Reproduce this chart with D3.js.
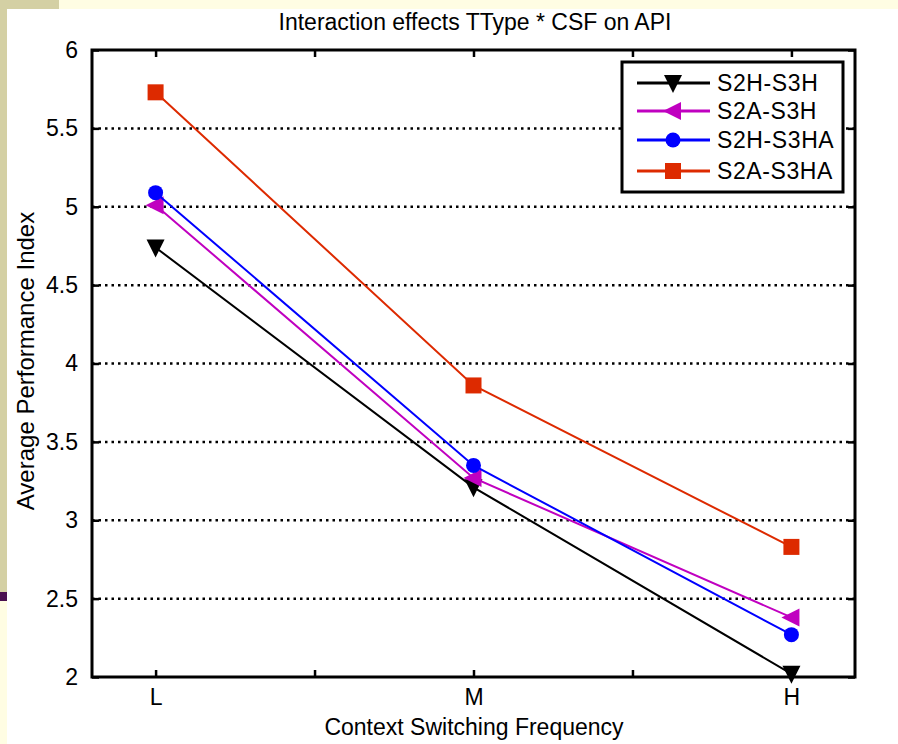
<!DOCTYPE html>
<html>
<head>
<meta charset="utf-8">
<script src="https://cdn.jsdelivr.net/npm/d3@7"></script>
<style>
  body { margin: 0; background: #fffde3; }
  svg { display: block; font-family: "Liberation Sans", Arial, sans-serif; }
</style>
</head>
<body>
<svg width="898" height="744"></svg>
<script>
const categories = ["L", "M", "H"];
const seriesNames = ["S2H-S3H", "S2A-S3H", "S2H-S3HA", "S2A-S3HA"];
const s2hS3h = [4.74, 3.21, 2.02];
const s2aS3h = [5.01, 3.27, 2.38];
const s2hS3ha = [5.09, 3.35, 2.27];
const s2aS3ha = [5.73, 3.86, 2.83];
const yTicks = [2, 2.5, 3, 3.5, 4, 4.5, 5, 5.5, 6];
const xTicks = [1, 1.5, 2, 2.5, 3];

const colors = ["#000000", "#c000c0", "#0000ff", "#dd2a00"];
const symbols = ["tridown", "trileft", "circle", "square"];
const series = seriesNames.map((name, i) => ({
  name, color: colors[i], symbol: symbols[i],
  values: [s2hS3h, s2aS3h, s2hS3ha, s2aS3ha][i]
}));

const svg = d3.select("svg");
const fs = 23;

// slide background bits
svg.append("rect").attr("x", 7).attr("y", 9).attr("width", 891).attr("height", 735).attr("fill", "#fff");
svg.append("rect").attr("x", 0).attr("y", 0).attr("width", 59).attr("height", 9).attr("fill", "#d4d0a4");
svg.append("rect").attr("x", 0).attr("y", 0).attr("width", 7).attr("height", 592).attr("fill", "#d4d0a4");
svg.append("rect").attr("x", 0).attr("y", 592).attr("width", 7).attr("height", 9).attr("fill", "#4a1050");

const plot = { left: 92, right: 855, top: 50, bottom: 677 };
const x = d3.scaleLinear().domain([0.8, 3.2]).range([plot.left, plot.right]);
const y = d3.scaleLinear().domain([2, 6]).range([plot.bottom, plot.top]);

// grid
svg.append("g").selectAll("line")
  .data(yTicks.filter(d => d > 2 && d < 6))
  .join("line")
  .attr("x1", plot.left).attr("x2", plot.right)
  .attr("y1", d => y(d)).attr("y2", d => y(d))
  .attr("stroke", "#000").attr("stroke-width", 2.5)
  .attr("stroke-dasharray", "2.5,4");

// axes (ticks inward on all four sides)
const tickLen = 7;
svg.append("g").attr("transform", `translate(0,${plot.bottom})`)
  .call(d3.axisBottom(x).tickValues(xTicks).tickSizeInner(-tickLen).tickSizeOuter(0).tickPadding(12)
    .tickFormat(d => Number.isInteger(d) ? categories[d - 1] : ""))
  .call(g => g.select(".domain").remove());
svg.append("g").attr("transform", `translate(0,${plot.top})`)
  .call(d3.axisTop(x).tickValues(xTicks).tickSizeInner(-tickLen).tickSizeOuter(0).tickFormat(""))
  .call(g => g.select(".domain").remove());
svg.append("g").attr("transform", `translate(${plot.left},0)`)
  .call(d3.axisLeft(y).tickValues(yTicks).tickSizeInner(-tickLen).tickSizeOuter(0).tickPadding(14)
    .tickFormat(d => d3.format("")(d)))
  .call(g => g.select(".domain").remove());
svg.append("g").attr("transform", `translate(${plot.right},0)`)
  .call(d3.axisRight(y).tickValues(yTicks).tickSizeInner(-tickLen).tickSizeOuter(0).tickFormat(""))
  .call(g => g.select(".domain").remove());

svg.selectAll(".tick line").attr("stroke", "#000").attr("stroke-width", 2.5);
svg.selectAll(".tick text").attr("font-size", fs).attr("fill", "#000")
  .attr("font-family", "Liberation Sans, Arial, sans-serif");

svg.append("rect")
  .attr("x", plot.left).attr("y", plot.top)
  .attr("width", plot.right - plot.left).attr("height", plot.bottom - plot.top)
  .attr("fill", "none").attr("stroke", "#000").attr("stroke-width", 3);

function marker(sel, d) {
  if (d.symbol === "circle") {
    sel.append("circle").attr("r", 7.5).attr("fill", d.color);
  } else if (d.symbol === "square") {
    sel.append("rect").attr("x", -8).attr("y", -8).attr("width", 16).attr("height", 16).attr("fill", d.color);
  } else if (d.symbol === "tridown") {
    sel.append("path").attr("d", "M-9,-8L9,-8L0,10Z").attr("fill", d.color);
  } else {
    sel.append("path").attr("d", "M-10,0L8,-9L8,9Z").attr("fill", d.color);
  }
}

const line = d3.line().x((d, i) => x(i + 1)).y(d => y(d));
const sg = svg.append("g").selectAll("g").data(series).join("g");
sg.append("path")
  .attr("d", d => line(d.values))
  .attr("fill", "none").attr("stroke", d => d.color).attr("stroke-width", 2);
sg.each(function (d) {
  d3.select(this).selectAll(".m").data(d.values).join("g")
    .attr("class", "m")
    .attr("transform", (v, i) => `translate(${x(i + 1)},${y(v)})`)
    .each(function () { marker(d3.select(this), d); });
});

// legend
const lg = svg.append("g");
lg.append("rect").attr("x", 622).attr("y", 62).attr("width", 221).attr("height", 130)
  .attr("fill", "#fff").attr("stroke", "#000").attr("stroke-width", 3);
const rowY = [83, 111, 140, 171];
const items = lg.selectAll("g").data(series).join("g")
  .attr("transform", (d, i) => `translate(0,${rowY[i]})`);
items.append("line").attr("x1", 637).attr("x2", 710)
  .attr("stroke", d => d.color).attr("stroke-width", 3);
items.append("g").attr("transform", "translate(673,0)")
  .each(function (d) { marker(d3.select(this), d); });
items.append("text").attr("x", 717).attr("y", 0).attr("dy", "0.35em")
  .attr("font-size", fs).attr("letter-spacing", 0.6).text(d => d.name);

// titles
svg.append("text").attr("x", 475).attr("y", 30).attr("text-anchor", "middle")
  .attr("font-size", fs).text("Interaction effects TType * CSF on API");
svg.append("text").attr("x", 474).attr("y", 735).attr("text-anchor", "middle")
  .attr("font-size", fs).text("Context Switching Frequency");
svg.append("text").attr("transform", "translate(34,361) rotate(-90)")
  .attr("text-anchor", "middle").attr("font-size", fs + 1).text("Average Performance Index");
</script>
</body>
</html>
